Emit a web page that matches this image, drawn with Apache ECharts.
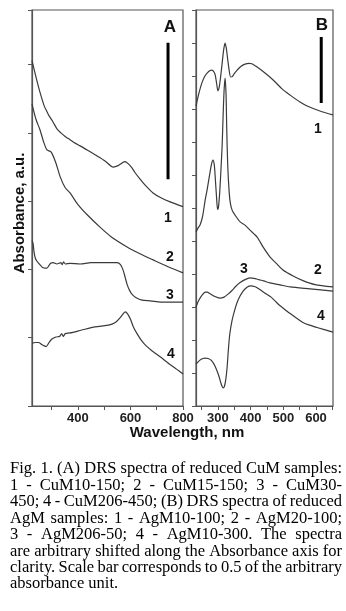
<!DOCTYPE html>
<html>
<head>
<meta charset="utf-8">
<script src="https://cdn.jsdelivr.net/npm/echarts@6/dist/echarts.min.js"></script>
<style>
  html, body { margin: 0; padding: 0; background: #fff; }
  #chart { width: 346px; height: 611px; }
</style>
</head>
<body>
<div id="chart"></div>
<script>
// panel A: CuM samples, [wavelength nm, shifted absorbance]
var cuM10_150 = [[225,5.06],[240,4.82],[255,4.60],[271,4.40],[282,4.31],[287,4.27],[295,4.22],[305,4.16],[320,4.06],[335,4.00],[350,3.95],[362,3.92],[385,3.86],[408,3.81],[435,3.75],[465,3.68],[503,3.59],[534,3.50],[553,3.52],[568,3.56],[579,3.58],[591,3.55],[605,3.49],[617,3.42],[635,3.33],[655,3.24],[686,3.12],[716,3.05],[751,2.99],[800,2.92]];
var cuM15_150 = [[225,4.42],[240,4.20],[255,4.05],[270,3.86],[282,3.75],[294,3.73],[301,3.70],[316,3.56],[332,3.36],[351,3.20],[370,3.12],[400,2.95],[438,2.79],[484,2.62],[526,2.48],[587,2.33],[636,2.23],[686,2.14],[743,2.04],[800,1.95]];
var cuM30_450 = [[225,2.42],[229,2.38],[233,2.25],[238,2.16],[244,2.12],[255,2.07],[265,2.03],[275,2.02],[282,2.02],[290,2.06],[296,2.09],[305,2.10],[320,2.08],[335,2.10],[340,2.07],[345,2.11],[352,2.08],[370,2.09],[408,2.08],[450,2.10],[484,2.10],[522,2.10],[549,2.10],[562,2.07],[572,1.99],[580,1.88],[588,1.77],[597,1.69],[607,1.63],[620,1.59],[644,1.55],[675,1.54],[732,1.52],[800,1.52]];
var cuM206_450 = [[225,0.92],[238,0.93],[250,0.93],[262,0.90],[272,0.88],[279,0.87],[290,0.93],[301,0.98],[316,1.01],[330,1.02],[338,1.06],[344,1.02],[352,1.06],[370,1.07],[412,1.11],[465,1.16],[510,1.18],[530,1.20],[545,1.23],[560,1.29],[572,1.35],[580,1.38],[589,1.35],[600,1.27],[612,1.15],[625,1.06],[640,0.97],[660,0.88],[678,0.82],[713,0.72],[743,0.63],[775,0.54],[800,0.47]];

// panel B: AgM samples
var agM10_100 = [[233,9.09],[242,9.48],[251,9.79],[259,9.98],[267,10.09],[276,10.17],[282,10.18],[288,10.12],[292,10.02],[296,9.78],[300,9.55],[304,9.66],[308,9.95],[313,10.39],[318,10.82],[322,11.0],[326,10.82],[330,10.50],[334,10.20],[339,9.97],[344,9.98],[349,10.06],[359,10.18],[370,10.29],[383,10.36],[395,10.38],[404,10.37],[420,10.27],[444,10.09],[469,9.88],[496,9.61],[521,9.42],[551,9.21],[573,9.09],[612,8.94],[652,8.82]];
var agM20_100 = [[233,5.27],[239,5.39],[245,5.48],[250,5.62],[254,5.79],[261,6.24],[267,6.55],[276,7.09],[281,7.35],[285,7.45],[289,7.30],[292,6.90],[296,6.30],[299,5.96],[302,6.05],[306,6.55],[310,7.30],[313,7.90],[316,8.82],[319,9.58],[322,9.94],[325,9.42],[327,8.40],[330,7.30],[334,6.55],[338,6.15],[344,5.92],[352,5.79],[368,5.58],[383,5.48],[398,5.33],[420,5.12],[438,4.82],[459,4.52],[481,4.30],[499,4.12],[530,3.94],[560,3.80],[597,3.68],[652,3.61]];
var agM206_50 = [[233,3.00],[242,3.21],[254,3.39],[262,3.45],[267,3.45],[276,3.40],[288,3.33],[306,3.27],[319,3.30],[331,3.39],[343,3.50],[355,3.63],[368,3.74],[383,3.83],[398,3.88],[410,3.87],[425,3.83],[440,3.79],[459,3.73],[490,3.67],[521,3.61],[582,3.55],[652,3.48]];
var agM10_300 = [[233,1.27],[245,1.39],[254,1.44],[261,1.45],[270,1.44],[280,1.38],[291,1.21],[303,0.91],[310,0.67],[316,0.55],[320,0.60],[324,0.80],[328,1.15],[332,1.70],[336,2.15],[343,2.58],[352,2.93],[362,3.22],[377,3.48],[389,3.60],[401,3.64],[412,3.62],[420,3.58],[444,3.42],[466,3.27],[484,3.09],[499,2.97],[521,2.80],[542,2.65],[560,2.53],[580,2.45],[603,2.38],[652,2.24]];

// scale bars = 0.5 of the arbitrary absorbance unit
var barA = [[743,3.32],[743,5.32]];
var barB = [[616,9.18],[616,11.18]];

var ticksA = [300,400,500,600,700,800];
var labelsA = [400,600,800];
var ticksB = [250,300,350,400,450,500,550,600,650];
var labelsB = [300,400,500,600];

var captionLines = [
  'Fig. 1. (A) DRS spectra of reduced CuM samples:',
  '1 - CuM10-150; 2 - CuM15-150; 3 - CuM30-',
  '450; 4 - CuM206-450; (B) DRS spectra of reduced',
  'AgM samples: 1 - AgM10-100; 2 - AgM20-100;',
  '3 - AgM206-50; 4 - AgM10-300. The spectra',
  'are arbitrary shifted along the Absorbance axis for',
  'clarity. Scale bar corresponds to 0.5 of the arbitrary',
  'absorbance unit.'
];

var sans = '"Liberation Sans", Arial, sans-serif';
var serifFont = '16.5px "Liberation Serif", "Times New Roman", serif';
var lineColor = '#3a3a3a';
var frameColor = '#555';

function xAxisOf(grid, min, max, ticks, labels) {
  return {
    type: 'value', gridIndex: grid, min: min, max: max,
    axisLine: { lineStyle: { color: frameColor, width: 1.2 } },
    axisTick: { customValues: ticks, length: 4, lineStyle: { color: frameColor } },
    axisLabel: { customValues: labels, margin: 6, fontSize: 13, fontWeight: 'bold', fontFamily: sans, color: '#222' },
    splitLine: { show: false }
  };
}
function yAxisOf(grid, max) {
  return {
    type: 'value', gridIndex: grid, min: 0, max: max, interval: 1,
    axisLine: { show: true, lineStyle: { color: frameColor, width: 1.2 } },
    axisTick: { show: true, length: 4, lineStyle: { color: frameColor } },
    axisLabel: { show: false },
    splitLine: { show: false }
  };
}
function spectrum(data, xi) {
  return {
    type: 'line', data: data, xAxisIndex: xi, yAxisIndex: xi,
    showSymbol: false, smooth: 0.25, silent: true,
    lineStyle: { color: lineColor, width: 1.2 }
  };
}
function bar(data, xi) {
  return {
    type: 'line', data: data, xAxisIndex: xi, yAxisIndex: xi,
    showSymbol: false, silent: true,
    lineStyle: { color: '#000', width: 3 }
  };
}
function label(text, x, y, size) {
  return {
    type: 'text', x: x, y: y, silent: true,
    style: { text: text, fill: '#111', font: 'bold ' + (size || 14) + 'px ' + sans,
      textAlign: 'center', textVerticalAlign: 'middle', align: 'center', verticalAlign: 'middle' }
  };
}

// justified caption: measure words and spread them over the line width
var ctx = document.createElement('canvas').getContext('2d');
ctx.font = serifFont;
var capLeft = 10, capRight = 342, capTop = 469, capStep = 16.45;
var captionEls = [];
captionLines.forEach(function (line, i) {
  var words = line.split(' ');
  var y = capTop + i * capStep;
  var last = i === captionLines.length - 1;
  var total = 0;
  words.forEach(function (w) { total += ctx.measureText(w).width; });
  var gap = last ? ctx.measureText(' ').width : (capRight - capLeft - total) / (words.length - 1);
  var x = capLeft;
  words.forEach(function (w) {
    captionEls.push({
      type: 'text', x: x, y: y, silent: true,
      style: { text: w, fill: '#000', font: serifFont, textVerticalAlign: 'middle', verticalAlign: 'middle' }
    });
    x += ctx.measureText(w).width + gap;
  });
});

var chart = echarts.init(document.getElementById('chart'));
chart.setOption({
  animation: false,
  grid: [
    { left: 32, top: 10, width: 151, height: 396, show: true, borderColor: frameColor, borderWidth: 1.2 },
    { left: 196, top: 10, width: 137, height: 396, show: true, borderColor: frameColor, borderWidth: 1.2 }
  ],
  xAxis: [xAxisOf(0, 225, 800, ticksA, labelsA), xAxisOf(1, 233, 652, ticksB, labelsB)],
  yAxis: [yAxisOf(0, 5.8), yAxisOf(1, 12)],
  series: [
    spectrum(cuM10_150, 0), spectrum(cuM15_150, 0), spectrum(cuM30_450, 0), spectrum(cuM206_450, 0),
    spectrum(agM10_100, 1), spectrum(agM20_100, 1), spectrum(agM206_50, 1), spectrum(agM10_300, 1),
    bar(barA, 0), bar(barB, 1)
  ],
  graphic: [
    label('A', 170, 27, 17), label('B', 322, 25, 17),
    label('1', 168, 218), label('2', 170, 257), label('3', 170, 295), label('4', 171, 354),
    label('1', 318, 129), label('2', 318, 270), label('3', 244, 269), label('4', 321, 316),
    label('Wavelength, nm', 187, 433, 15),
    {
      type: 'text', x: 20, y: 213, rotation: Math.PI / 2, silent: true,
      style: { text: 'Absorbance, a.u.', fill: '#111', font: 'bold 15px ' + sans,
        textAlign: 'center', textVerticalAlign: 'middle', align: 'center', verticalAlign: 'middle' }
    }
  ].concat(captionEls)
});
</script>
</body>
</html>
